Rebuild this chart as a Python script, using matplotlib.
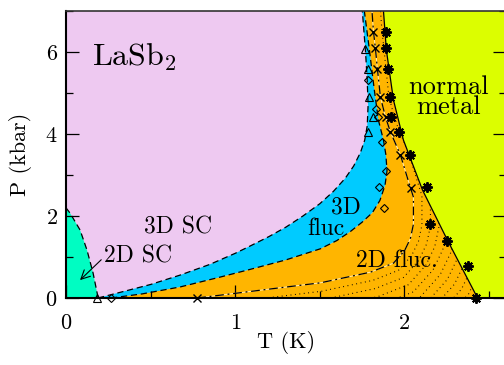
#!/usr/bin/env python3
"""
P-T phase diagram of LaSb2 (SC / fluctuation regimes)
"""

import numpy as np
import matplotlib
matplotlib.use('Agg')
import matplotlib.pyplot as plt
from matplotlib.patches import Polygon
from matplotlib.ticker import MultipleLocator

plt.rcParams['font.family'] = ['cmr10', 'DejaVu Serif']
plt.rcParams['mathtext.fontset'] = 'cm'
plt.rcParams['axes.formatter.use_mathtext'] = True

# ---- data (T in K, P in kbar) ----
# 2D SC dome near T=0
green_T = [0.0, 0.024, 0.083, 0.124, 0.160, 0.190]
green_P = [2.20, 2.07, 1.66, 1.17, 0.61, 0.0]

# 3D SC boundary (pink / blue)
sc3_T = [0.189, 0.35, 0.50, 0.675, 0.85, 1.00, 1.089, 1.20, 1.30, 1.40, 1.50,
         1.58, 1.65, 1.70, 1.74, 1.765, 1.78, 1.785, 1.78, 1.77, 1.751]
sc3_P = [0.0, 0.17, 0.33, 0.56, 0.82, 1.09, 1.27, 1.50, 1.73, 2.00, 2.30,
         2.60, 2.92, 3.22, 3.55, 3.85, 4.20, 4.70, 5.30, 6.00, 7.0]

# 3D fluctuation boundary (blue / orange)
fl3_T = [0.266, 0.45, 0.675, 0.911, 1.09, 1.30, 1.503, 1.60, 1.68, 1.75, 1.81,
         1.855, 1.885, 1.897, 1.89, 1.876, 1.846, 1.822, 1.793, 1.763]
fl3_P = [0.0, 0.10, 0.27, 0.51, 0.70, 0.93, 1.20, 1.40, 1.62, 1.85, 2.08,
         2.38, 2.75, 3.10, 3.50, 3.85, 4.34, 5.07, 6.05, 7.0]

# 2D fluctuation onset (dash-dot)
fl2_T = [0.775, 1.012, 1.207, 1.503, 1.799, 1.935, 2.000, 2.035, 2.053, 2.053, 2.036,
         1.976, 1.917, 1.888, 1.858, 1.840, 1.828, 1.817, 1.808]
fl2_P = [0.0, 0.12, 0.22, 0.37, 0.63, 0.85, 1.15, 1.45, 1.80, 2.46, 2.68,
         3.49, 4.05, 4.41, 4.90, 5.59, 6.10, 6.49, 7.0]

# normal metal boundary (solid)
nm_T = [1.876, 1.893, 1.935, 1.994, 2.107, 2.254, 2.432]
nm_P = [7.0, 6.05, 4.83, 3.85, 2.63, 1.41, 0.0]

# measured points
tri_T = [0.183, 1.769, 1.787, 1.793, 1.817, 1.787]
tri_P = [0.0, 6.07, 5.59, 4.90, 4.41, 4.05]

dia_T = [0.266, 1.787, 1.834, 1.846, 1.870, 1.888, 1.852, 1.882]
dia_P = [0.0, 5.32, 4.61, 4.41, 3.80, 3.10, 2.71, 2.20]

x_T = [0.775, 1.817, 1.828, 1.840, 1.858, 1.888, 1.917, 1.976, 2.036]
x_P = [0.0, 6.49, 6.10, 5.59, 4.90, 4.41, 4.05, 3.49, 2.68]

ast_T = [1.893, 1.893, 1.900, 1.917, 1.923, 1.970, 2.030, 2.136, 2.148, 2.254, 2.373, 2.420]
ast_P = [6.49, 6.10, 5.59, 4.90, 4.41, 4.05, 3.49, 2.71, 1.80, 1.39, 0.78, 0.0]

T_MAX = 2.6
P_MAX = 7.0

PINK = '#eec9f1'
GREEN = '#00fdc2'
BLUE = '#00cbff'
ORANGE = '#ffb500'
YELLOW = '#dcfe00'

AX_W, AX_H = 440, 287   # axes size in pixels


def offset_curve(T, P, d):
    """Offset a polyline by d pixels to its right-hand side (miter joins)."""
    sx, sy = AX_W / T_MAX, AX_H / P_MAX
    pts = np.column_stack([np.asarray(T) * sx, np.asarray(P) * sy])
    seg = np.diff(pts, axis=0)
    seg /= np.hypot(seg[:, 0], seg[:, 1])[:, None]
    nrm = np.column_stack([seg[:, 1], -seg[:, 0]])
    out = np.empty_like(pts)
    out[0] = pts[0] + d * nrm[0]
    out[-1] = pts[-1] + d * nrm[-1]
    for i in range(1, len(pts) - 1):
        n = nrm[i - 1] + nrm[i]
        n /= np.hypot(*n)
        out[i] = pts[i] + n * d / max(np.dot(n, nrm[i]), 0.3)
    return out[:, 0] / sx, out[:, 1] / sy


fig = plt.figure(figsize=(5.04, 3.65), dpi=100)
ax = fig.add_axes([66 / 504, 67 / 365, AX_W / 504, AX_H / 365])
ax.set_facecolor(PINK)
ax.set_xlim(0, T_MAX)
ax.set_ylim(0, P_MAX)

# ---- filled regions ----
ax.fill([T_MAX, T_MAX] + nm_T, [0, P_MAX] + nm_P, color=YELLOW, lw=0)
ax.fill(fl3_T + nm_T, fl3_P + nm_P, color=ORANGE, lw=0)
ax.fill(sc3_T + fl3_T[::-1], sc3_P + fl3_P[::-1], color=BLUE, lw=0)
ax.fill([0.0] + green_T, [0.0] + green_P, color=GREEN, lw=0)

# ---- dotted hatching in the 2D fluctuation region ----
hatch_region = Polygon(np.column_stack([fl2_T + nm_T, fl2_P + nm_P]),
                       closed=True, transform=ax.transData)
ext_T = [0.2] + fl2_T + [1.78]
ext_P = [-0.1] + fl2_P + [9.0]
for k in range(1, 14):
    oT, oP = offset_curve(ext_T, ext_P, 8.5 * k)
    ln, = ax.plot(oT, oP, color='k', lw=0.8, ls=(0, (0.8, 3.2)))
    ln.set_clip_path(hatch_region)

# light seam along the 2D fluc boundary
ax.plot(fl2_T, fl2_P, color='#fff2c8', lw=0.7, alpha=0.9)

# ---- boundary lines ----
ax.plot(green_T, green_P, color='k', lw=0.9, dashes=(5, 3))
ax.plot(sc3_T, sc3_P, color='k', lw=0.9, dashes=(5, 3))
ax.plot(fl3_T, fl3_P, color='k', lw=0.9, dashes=(5, 3))
ax.plot(fl2_T, fl2_P, color='k', lw=0.9, dashes=(7, 3, 1.5, 3))
ax.plot(nm_T, nm_P, color='k', lw=0.9)

# ---- data points ----
ax.plot(tri_T, tri_P, ls='none', marker='^', ms=6, mfc='none', mec='k',
        mew=0.8, clip_on=False, zorder=5)
ax.plot(dia_T, dia_P, ls='none', marker='D', ms=4.5, mfc='none', mec='k',
        mew=0.8, clip_on=False, zorder=5)
ax.plot(x_T, x_P, ls='none', marker='x', ms=6, mec='k', mew=1.0,
        clip_on=False, zorder=5)
ax.plot(ast_T, ast_P, ls='none', marker=(8, 2, 0), ms=7.5, mec='k', mew=1.4,
        clip_on=False, zorder=5)

# ---- labels ----
ax.text(0.154, 5.68, r'LaSb$_2$', fontsize=23, ha='left', va='baseline')
ax.text(2.262, 4.90, 'normal\nmetal', fontsize=19, ha='center', va='center',
        multialignment='center', linespacing=0.78)
ax.text(0.66, 1.585, '3D SC', fontsize=17, ha='center', va='baseline')
ax.text(0.423, 0.878, '2D SC', fontsize=17, ha='center', va='baseline')
ax.text(1.657, 2.07, '3D', fontsize=17, ha='center', va='baseline')
ax.text(1.536, 1.54, 'fluc', fontsize=17, ha='center', va='baseline')
ax.text(1.953, 0.756, '2D fluc.', fontsize=17, ha='center', va='baseline')

ax.annotate('', xy=(0.071, 0.39), xytext=(0.22, 0.98),
            arrowprops=dict(arrowstyle='->', lw=0.8, color='k', mutation_scale=16))

# ---- axes ----
ax.xaxis.set_major_locator(MultipleLocator(1))
ax.xaxis.set_minor_locator(MultipleLocator(0.5))
ax.yaxis.set_major_locator(MultipleLocator(2))
ax.yaxis.set_minor_locator(MultipleLocator(1))
ax.tick_params(which='both', direction='in', top=False, right=True,
               width=0.9, colors='k', labelsize=16)
ax.tick_params(which='major', length=9.5)
ax.tick_params(which='minor', length=5)
ax.tick_params(axis='x', pad=11)
ax.tick_params(axis='y', pad=6)

for side in ['left', 'bottom']:
    ax.spines[side].set_linewidth(1.5)
ax.spines['top'].set_linewidth(1.2)
ax.spines['top'].set_color('#333333')

ax.set_xlabel('T (K)', fontsize=16)
ax.set_ylabel('P (kbar)', fontsize=16)
ax.xaxis.set_label_coords(0.5, -0.115)
ax.yaxis.set_label_coords(-0.077, 0.5)

fig.savefig('out.png', dpi=100)
